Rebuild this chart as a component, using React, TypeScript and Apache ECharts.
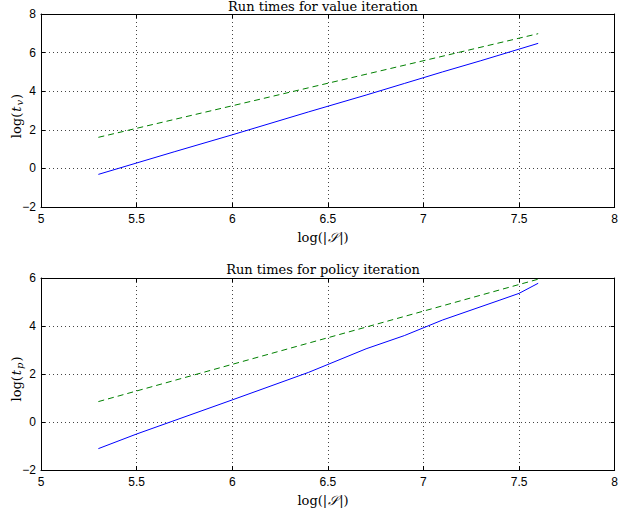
import React, { useEffect, useRef } from "react";
import * as echarts from "echarts";

const xTicks = ["5", "5.5", "6", "6.5", "7", "7.5", "8"];
const valueX = [5.3, 5.7, 6.0, 6.4, 6.7, 6.9, 7.1, 7.3, 7.5, 7.6];
const valueMeasured = [-0.31, 0.87, 1.74, 2.93, 3.8, 4.4, 5.0, 5.58, 6.18, 6.48];
const valueRefX = [5.3, 7.6];
const valueRef = [1.61, 6.98];
const policyX = [5.3, 5.5, 6.0, 6.4, 6.7, 6.9, 7.1, 7.4, 7.5, 7.6];
const policyMeasured = [-1.11, -0.5, 0.92, 2.07, 3.05, 3.6, 4.25, 5.08, 5.36, 5.78];
const policyRefX = [5.3, 7.6];
const policyRef = [0.85, 5.95];
const titles = ["Run times for value iteration", "Run times for policy iteration"];

const SERIF = "'DejaVu Serif', serif";
const SANS = "'Liberation Sans', Arial, sans-serif";

function pairs(xs: number[], ys: number[]) {
  return xs.map((x, i) => [x, ys[i]]);
}

export default function App() {
  const ref = useRef<HTMLDivElement>(null);
  useEffect(() => {
    document.body.style.margin = "0";
    const chart = echarts.init(ref.current!, null, { renderer: "svg" });
    const grids = [
      { left: 41, top: 14, width: 577, height: 193 },
      { left: 41, top: 278, width: 577, height: 192 },
    ];
    const yRanges = [
      [-2, 8],
      [-2, 6],
    ];
    const axisLine = { show: true, onZero: false, lineStyle: { color: "#000", width: 1 } };
    const tick = { show: true, inside: true, length: 4, lineStyle: { color: "#000" } };
    const grid = { show: true, lineStyle: { color: "#444", type: [1, 3], width: 1 } };
    const xAxes: any[] = [];
    const yAxes: any[] = [];
    grids.forEach((_, gi) => {
      xAxes.push({
        type: "value",
        gridIndex: gi,
        min: 5,
        max: 8,
        interval: 0.5,
        position: "bottom",
        axisLine,
        axisTick: tick,
        axisLabel: {
          color: "#000",
          fontFamily: SANS,
          fontSize: 12,
          margin: 6,
          formatter: (v: number) => xTicks[Math.round((v - 5) / 0.5)] ?? String(v),
        },
        splitLine: grid,
      });
      xAxes.push({
        type: "value",
        gridIndex: gi,
        min: 5,
        max: 8,
        interval: 0.5,
        position: "top",
        axisLine,
        axisTick: tick,
        axisLabel: { show: false },
        splitLine: { show: false },
      });
      yAxes.push({
        type: "value",
        gridIndex: gi,
        min: yRanges[gi][0],
        max: yRanges[gi][1],
        interval: 2,
        position: "left",
        axisLine,
        axisTick: tick,
        axisLabel: {
          color: "#000",
          fontFamily: SANS,
          fontSize: 12,
          margin: 5,
          formatter: (v: number) => String(v).replace("-", "\u2212"),
        },
        splitLine: grid,
      });
      yAxes.push({
        type: "value",
        gridIndex: gi,
        min: yRanges[gi][0],
        max: yRanges[gi][1],
        interval: 2,
        position: "right",
        axisLine,
        axisTick: tick,
        axisLabel: { show: false },
        splitLine: { show: false },
      });
    });

    const lineSeries = (data: number[][], gi: number, dashed: boolean) => ({
      type: "line",
      xAxisIndex: gi * 2,
      yAxisIndex: gi * 2,
      data,
      symbol: "none",
      lineStyle: dashed
        ? { color: "#008000", width: 1, type: [6, 4] }
        : { color: "#0000ff", width: 1 },
    });

    const richMath = {
      n: { fontFamily: SERIF, fontSize: 13, color: "#000" },
      i: { fontFamily: SERIF, fontSize: 13, fontStyle: "italic", color: "#000", padding: [0, 1, 0, 1] },
      s: { fontFamily: SERIF, fontSize: 10, fontStyle: "italic", color: "#000", padding: [6, 1, 0, 0] },
    };

    const titleText = (text: string, y: number) => ({
      type: "text",
      x: 323,
      y,
      style: {
        text,
        font: `13px ${SERIF}`,
        fill: "#000",
        textAlign: "center",
        textVerticalAlign: "top",
      },
    });

    chart.setOption({
      animation: false,
      grid: grids.map((g) => ({ ...g, show: false })),
      xAxis: xAxes,
      yAxis: yAxes,
      series: [
        lineSeries(pairs(valueRefX, valueRef), 0, true),
        lineSeries(pairs(valueX, valueMeasured), 0, false),
        lineSeries(pairs(policyRefX, policyRef), 1, true),
        lineSeries(pairs(policyX, policyMeasured), 1, false),
      ],
      graphic: [
        titleText(titles[0], 0),
        titleText(titles[1], 263),
        {
          type: "text",
          x: 323,
          y: 231,
          style: { text: "{n|log(|}{i|\uD835\uDCAE}{n||)}", rich: richMath, textAlign: "center", textVerticalAlign: "top" },
        },
        {
          type: "text",
          x: 323,
          y: 494,
          style: { text: "{n|log(|}{i|\uD835\uDCAE}{n||)}", rich: richMath, textAlign: "center", textVerticalAlign: "top" },
        },
        {
          type: "text",
          x: 16,
          y: 116,
          rotation: Math.PI / 2,
          style: { text: "{n|log(}{i|t}{s|v}{n|)}", rich: richMath, textAlign: "center", textVerticalAlign: "middle" },
        },
        {
          type: "text",
          x: 16,
          y: 379,
          rotation: Math.PI / 2,
          style: { text: "{n|log(}{i|t}{s|p}{n|)}", rich: richMath, textAlign: "center", textVerticalAlign: "middle" },
        },
      ],
    });
    return () => chart.dispose();
  }, []);
  return <div ref={ref} style={{ width: 621, height: 517 }} />;
}
